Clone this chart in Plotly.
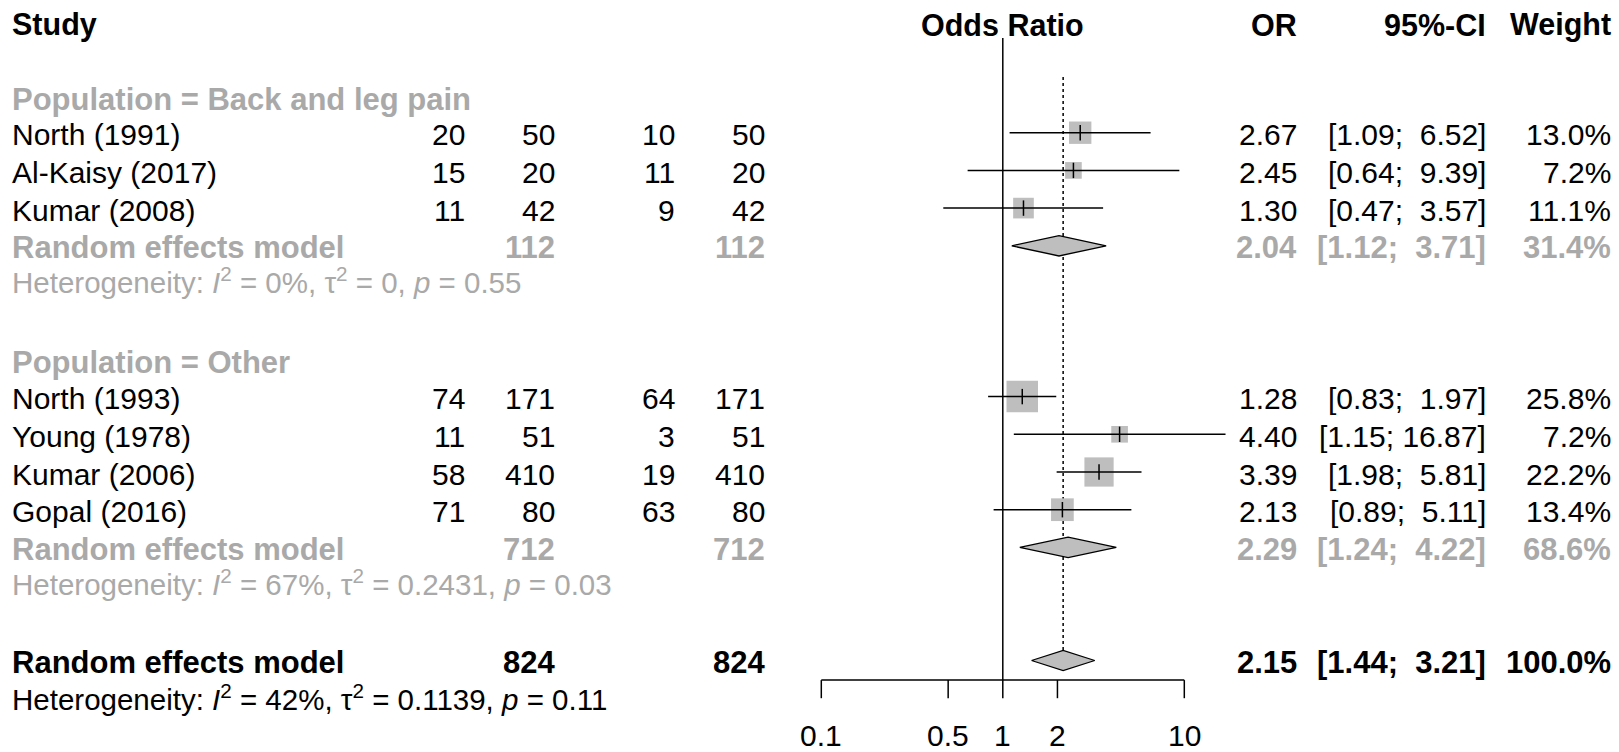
import math
import plotly.graph_objects as go

# ---------------- data ----------------
studies = ["North (1991)", "Al-Kaisy (2017)", "Kumar (2008)",
           "North (1993)", "Young (1978)", "Kumar (2006)", "Gopal (2016)"]
groups = ["Back and leg pain", "Back and leg pain", "Back and leg pain",
          "Other", "Other", "Other", "Other"]
ev_e = [20, 15, 11, 74, 11, 58, 71]
n_e = [50, 20, 42, 171, 51, 410, 80]
ev_c = [10, 11, 9, 64, 3, 19, 63]
n_c = [50, 20, 42, 171, 51, 410, 80]
or_est = [2.67, 2.45, 1.30, 1.28, 4.40, 3.39, 2.13]
or_lo = [1.09, 0.64, 0.47, 0.83, 1.15, 1.98, 0.89]
or_hi = [6.52, 9.39, 3.57, 1.97, 16.87, 5.81, 5.11]
weight = [13.0, 7.2, 11.1, 25.8, 7.2, 22.2, 13.4]

sub_names = ["Back and leg pain", "Other"]
sub_ne = [112, 712]
sub_nc = [112, 712]
sub_est = [2.04, 2.29]
sub_lo = [1.12, 1.24]
sub_hi = [3.71, 4.22]
sub_w = [31.4, 68.6]
sub_i2 = ["0%", "67%"]
sub_tau2 = ["0", "0.2431"]
sub_p = ["0.55", "0.03"]

tot_ne = 824
tot_nc = 824
tot_est = 2.15
tot_lo = 1.44
tot_hi = 3.21
tot_w = 100.0
tot_i2 = "42%"
tot_tau2 = "0.1139"
tot_p = "0.11"

tick_vals = [0.1, 0.5, 1, 2, 10]
tick_labels = ["0.1", "0.5", "1", "2", "10"]

# ---------------- layout helpers ----------------
W, H = 1619, 752
FONT = "Liberation Sans, Arial, sans-serif"
FS = 30
FS_BOLD = 31
FS_HET = 29.5
BLACK = "#000000"
GRAY = "#A9A9A9"
BOXGRAY = "#BEBEBE"
NB = "\u00a0"

# pixel columns (right edges unless noted)
X_STUDY = 11
X_EVE, X_NE, X_EVC, X_NC = 466, 556, 676, 766
X_OR, X_CI, X_W = 1298, 1487, 1612


def px(x):
    return x / W


annotations = []


def txt(x, y, s, anchor="right", color=BLACK, bold=False, size=None, xref="paper", yshift=-2):
    if size is None:
        size = FS_BOLD if bold else FS
    if bold:
        s = "<b>" + s + "</b>"
    annotations.append(dict(x=x, y=y, xref=xref, yref="y", text=s, showarrow=False,
                            xanchor=anchor, yanchor="middle", borderpad=0, yshift=yshift,
                            font=dict(family=FONT, size=size, color=color)))


def het_text(i2, tau2, p):
    return (f"Heterogeneity: <i>I</i><sup>2</sup> = {i2}, \u03c4<sup>2</sup> = {tau2}, "
            f"<i>p</i> = {p}")


def fmt_ci(lo, hi, width):
    h = f"{hi:.2f}"
    return "[" + f"{lo:.2f}" + ";" + NB + NB * (width - len(h)) + h + "]"


ci_width = max(len(f"{v:.2f}") for v in or_hi + sub_hi + [tot_hi])

# assign rows
r = 0
study_rows = []
sub_rows = []
het_rows = []
head_rows = []
for g in sub_names:
    head_rows.append(r)
    r += 1
    for i, gg in enumerate(groups):
        if gg == g:
            study_rows.append(r)
            r += 1
    sub_rows.append(r)
    r += 1
    het_rows.append(r)
    r += 2
tot_row = r
tot_het_row = r + 1
axis_row = tot_row + 0.52
tick_len = 0.48
label_row = tot_row + 2.0

# header
HEAD_ROW = -1.92
txt(px(X_STUDY), HEAD_ROW, "Study", anchor="left", bold=True, size=30.5)
txt(0, HEAD_ROW, "Odds Ratio", anchor="center", bold=True, xref="x", size=30.5)
txt(px(X_OR), HEAD_ROW, "OR", bold=True, size=30.5)
txt(px(X_CI), HEAD_ROW, "95%-CI", bold=True, size=30.5)
txt(px(X_W), HEAD_ROW, "Weight", bold=True, size=30.5)

# subgroups
for k, g in enumerate(sub_names):
    txt(px(X_STUDY), head_rows[k], "Population = " + g, anchor="left", color=GRAY, bold=True,
        yshift=-4)
    txt(px(X_STUDY), sub_rows[k], "Random effects model", anchor="left", color=GRAY, bold=True)
    txt(px(X_NE), sub_rows[k], str(sub_ne[k]), color=GRAY, bold=True)
    txt(px(X_NC), sub_rows[k], str(sub_nc[k]), color=GRAY, bold=True)
    txt(px(X_OR), sub_rows[k], f"{sub_est[k]:.2f}", color=GRAY, bold=True)
    txt(px(X_CI), sub_rows[k], fmt_ci(sub_lo[k], sub_hi[k], ci_width), color=GRAY, bold=True)
    txt(px(X_W), sub_rows[k], f"{sub_w[k]:.1f}%", color=GRAY, bold=True)
    txt(px(X_STUDY), het_rows[k], het_text(sub_i2[k], sub_tau2[k], sub_p[k]),
        anchor="left", color=GRAY, size=FS_HET, yshift=3)

for i, s in enumerate(studies):
    y = study_rows[i]
    txt(px(X_STUDY), y, s, anchor="left")
    txt(px(X_EVE), y, str(ev_e[i]))
    txt(px(X_NE), y, str(n_e[i]))
    txt(px(X_EVC), y, str(ev_c[i]))
    txt(px(X_NC), y, str(n_c[i]))
    txt(px(X_OR), y, f"{or_est[i]:.2f}")
    txt(px(X_CI), y, fmt_ci(or_lo[i], or_hi[i], ci_width))
    txt(px(X_W), y, f"{weight[i]:.1f}%")

# overall
txt(px(X_STUDY), tot_row, "Random effects model", anchor="left", bold=True)
txt(px(X_NE), tot_row, str(tot_ne), bold=True)
txt(px(X_NC), tot_row, str(tot_nc), bold=True)
txt(px(X_OR), tot_row, f"{tot_est:.2f}", bold=True)
txt(px(X_CI), tot_row, fmt_ci(tot_lo, tot_hi, ci_width), bold=True)
txt(px(X_W), tot_row, f"{tot_w:.1f}%", bold=True)
txt(px(X_STUDY), tot_het_row, het_text(tot_i2, tot_tau2, tot_p), anchor="left",
    size=FS_HET, yshift=1)

# tick labels
for v, lab in zip(tick_vals, tick_labels):
    txt(math.log10(v), label_row, lab, anchor="center", xref="x", yshift=0)

fig = go.Figure()

# reference lines
fig.add_trace(go.Scatter(x=[1, 1], y=[-1.51, axis_row], mode="lines",
                         line=dict(color=BLACK, width=1.5), hoverinfo="skip"))
fig.add_trace(go.Scatter(x=[tot_est, tot_est], y=[-0.48, tot_row - 0.27], mode="lines",
                         line=dict(color=BLACK, width=1.5, dash="3px,3px"), hoverinfo="skip"))

# squares
fig.add_trace(go.Scatter(x=or_est, y=study_rows, mode="markers",
                         marker=dict(symbol="square", size=[6.2 * math.sqrt(w) for w in weight],
                                     color=BOXGRAY, opacity=1, line=dict(width=0)),
                         hoverinfo="skip"))
# CI lines
cx, cy = [], []
for i in range(len(studies)):
    cx += [or_lo[i], or_hi[i], None]
    cy += [study_rows[i], study_rows[i], None]
fig.add_trace(go.Scatter(x=cx, y=cy, mode="lines", line=dict(color=BLACK, width=1.5),
                         hoverinfo="skip"))
# estimate ticks
fig.add_trace(go.Scatter(x=or_est, y=study_rows, mode="markers",
                         marker=dict(symbol="line-ns", size=11, opacity=1,
                                     line=dict(color=BLACK, width=1.5)), hoverinfo="skip"))

# diamonds
dh = 0.27
dx, dy = [], []
for est, lo, hi, yy in zip(sub_est + [tot_est], sub_lo + [tot_lo], sub_hi + [tot_hi],
                           sub_rows + [tot_row]):
    dx += [lo, est, hi, est, lo, None]
    dy += [yy, yy - dh, yy, yy + dh, yy, None]
fig.add_trace(go.Scatter(x=dx, y=dy, mode="lines", fill="toself", fillcolor=BOXGRAY,
                         line=dict(color=BLACK, width=1.3), hoverinfo="skip"))

# axis
ax, ay = [tick_vals[0], tick_vals[-1], None], [axis_row, axis_row, None]
for v in tick_vals:
    ax += [v, v, None]
    ay += [axis_row, axis_row + tick_len, None]
fig.add_trace(go.Scatter(x=ax, y=ay, mode="lines", line=dict(color=BLACK, width=1.5),
                         hoverinfo="skip"))

xr0 = -1 - 821.3 / 181.5
xr1 = 1 + (W - 1184.3) / 181.5
r_top = -95 / 37.7
r_bot = (H - 95) / 37.7

fig.update_layout(
    width=W, height=H, margin=dict(l=0, r=0, t=0, b=0, pad=0),
    paper_bgcolor="white", plot_bgcolor="white", showlegend=False,
    xaxis=dict(type="log", range=[xr0, xr1], visible=False, fixedrange=True),
    yaxis=dict(range=[r_bot, r_top], visible=False, fixedrange=True),
    annotations=annotations,
)

fig.write_html("out.html", config={"displayModeBar": False},
               post_script="document.body.style.margin='0';document.body.style.overflow='hidden';")
